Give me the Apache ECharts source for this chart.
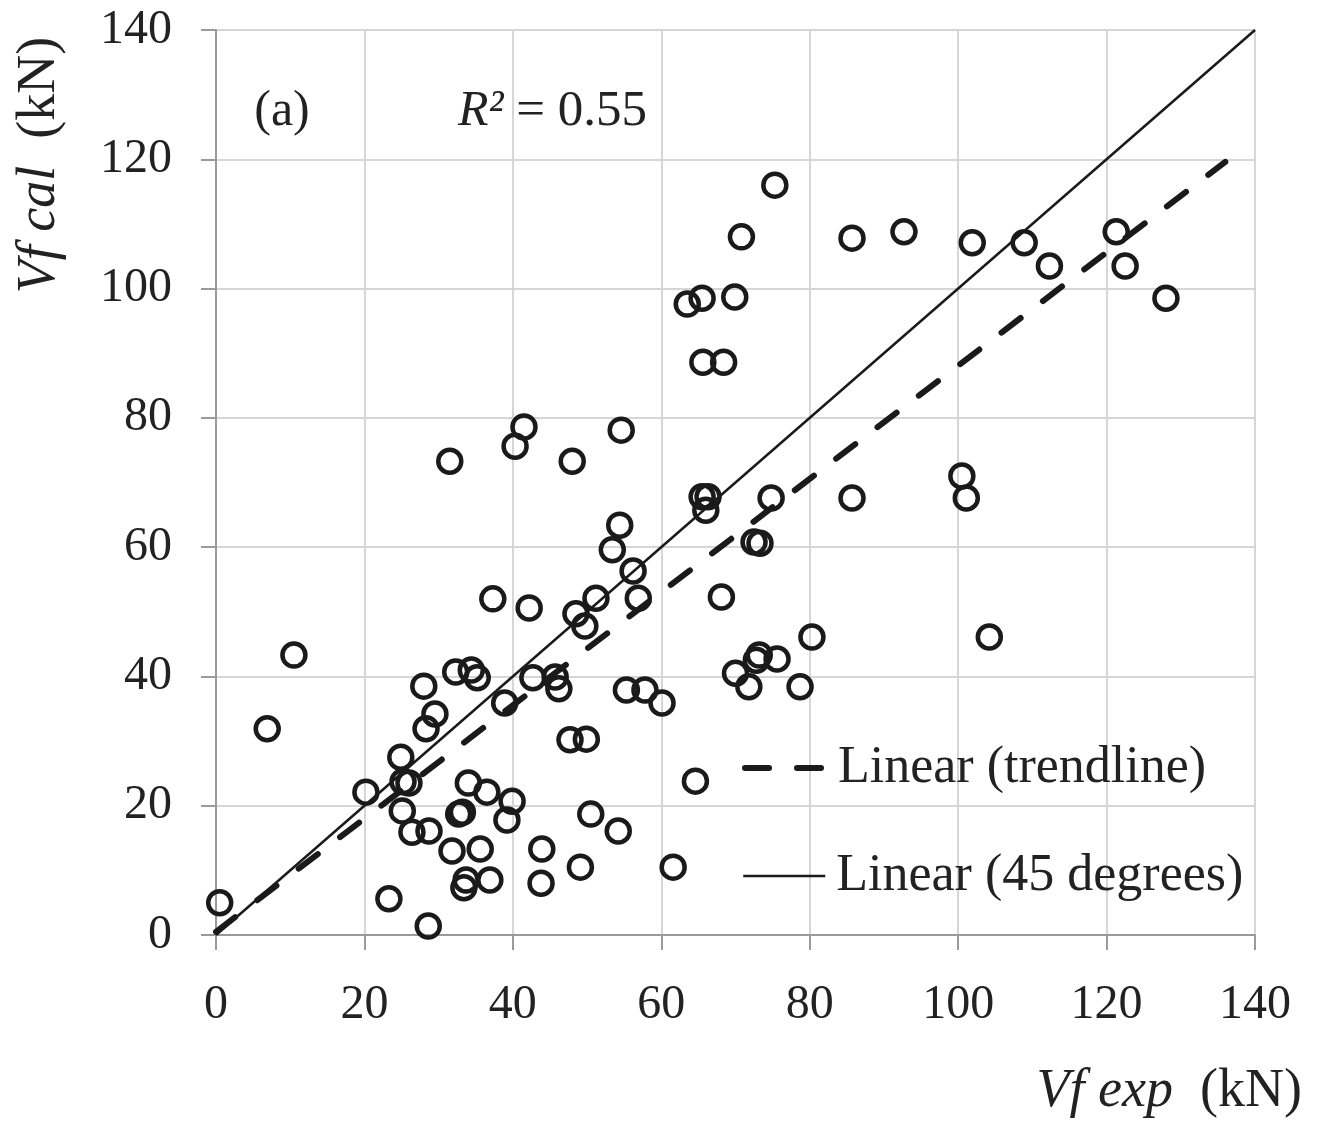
<!DOCTYPE html>
<html>
<head>
<meta charset="utf-8">
<script src="https://cdn.jsdelivr.net/npm/echarts@6/dist/echarts.min.js"></script>
<style>
  html, body { margin: 0; background: #fff; }
  #chart { width: 1320px; height: 1128px; }
</style>
</head>
<body>
<div id="chart"></div>
<script>
	'use strict';

	// measured shear (Vf exp) vs calculated (Vf cal), kN
	var vfExp = [0.5, 6.9, 10.5, 20.2, 23.3, 24.9, 25.2, 26.0, 25.1, 26.4,
		28.0, 28.3, 28.7, 28.6, 29.5, 31.8, 31.5, 32.3, 32.7, 33.2,
		33.4, 33.7, 34.0, 34.4, 35.2, 35.6, 36.5, 36.9, 37.3, 38.9,
		39.2, 39.9, 40.3, 41.5, 42.2, 42.7, 43.9, 43.8, 45.7, 46.2,
		47.7, 48.0, 48.5, 49.7, 49.9, 49.1, 50.5, 51.2, 53.4, 54.4,
		54.6, 54.2, 55.3, 56.2, 56.9, 57.8, 60.1, 61.6, 63.5, 64.6,
		65.5, 65.5, 66.3, 66.0, 65.6, 68.4, 68.1, 70.0, 69.9, 70.8,
		71.8, 72.5, 73.3, 72.8, 73.2, 75.3, 74.8, 75.6, 78.7, 80.3,
		85.7, 85.7, 92.7, 100.5, 101.1, 101.9, 104.2, 108.9, 112.3, 121.3,
		122.5, 128.0];
	var vfCal = [5.0, 31.9, 43.3, 22.1, 5.6, 27.5, 23.7, 23.5, 19.2, 15.9,
		38.5, 31.9, 16.1, 1.4, 34.2, 13.0, 73.3, 40.7, 18.7, 19.0,
		7.3, 8.5, 23.5, 41.0, 39.8, 13.3, 22.1, 8.5, 52.0, 35.9,
		17.8, 20.7, 75.6, 78.6, 50.6, 39.8, 13.3, 8.0, 39.9, 38.1,
		30.2, 73.3, 49.7, 47.8, 30.3, 10.5, 18.7, 52.1, 59.6, 63.4,
		78.1, 16.1, 37.9, 56.3, 52.1, 37.9, 35.9, 10.5, 97.6, 23.8,
		98.5, 67.8, 67.8, 65.7, 88.6, 88.6, 52.3, 40.5, 98.7, 108.0,
		38.4, 60.8, 60.6, 42.5, 43.3, 116.0, 67.6, 42.7, 38.4, 46.1,
		107.8, 67.6, 108.8, 71.0, 67.6, 107.1, 46.1, 107.1, 103.5, 108.8,
		103.5, 98.5];

	var trendX = [0, 136];
	var trendY = [0.5, 119.6];
	var diagX = [0, 140];
	var diagY = [0, 140];

	var axisMin = 0, axisMax = 140, axisStep = 20;
	var r2Label = '0.55';
	var panelLabel = '(a)';

	var serif = '"Liberation Serif", "DejaVu Serif", serif';
	var ink = '#1a1a1a';
	var dashStyle = { color: ink, width: 6, type: [24, 28], cap: 'round' };
	var solidStyle = { color: ink, width: 2.5, type: 'solid' };

	var pairs = function(xs, ys) {
		var out = [];
		for (var i = 0; i < xs.length; i++) {
			out.push([xs[i], ys[i]]);
		}
		return out;
	};

	var valueAxis = function(margin) {
		return {
			type: 'value',
			min: axisMin,
			max: axisMax,
			interval: axisStep,
			axisLine: { show: true, lineStyle: { color: '#9a9a9a', width: 2 } },
			axisTick: { show: true, length: 15, lineStyle: { color: '#9a9a9a', width: 2 } },
			splitLine: { show: true, lineStyle: { color: '#d6d6d6', width: 2 } },
			axisLabel: { fontSize: 48, fontFamily: serif, color: '#222', margin: margin }
		};
	};

	var legendAt = function(name, top, lineStyle) {
		return {
			data: [name],
			left: 742,
			top: top,
			padding: 0,
			itemWidth: 82,
			itemHeight: 14,
			itemGap: 0,
			selectedMode: false,
			itemStyle: { opacity: 0 },
			lineStyle: lineStyle,
			textStyle: { fontSize: 52, fontFamily: serif, color: '#222', padding: [0, 0, 0, 6] }
		};
	};

	var chart = echarts.init(document.getElementById('chart'), null, { renderer: 'canvas' });

	chart.setOption({
		backgroundColor: '#fff',
		animation: false,
		grid: { left: 216, right: 65, top: 30, bottom: 193, containLabel: false, outerBoundsMode: 'none' },
		xAxis: valueAxis(46),
		yAxis: valueAxis(44),
		legend: [
			legendAt('Linear (trendline)', 742, dashStyle),
			legendAt('Linear (45 degrees)', 850, solidStyle)
		],
		series: [
			{
				name: 'data',
				type: 'scatter',
				data: pairs(vfExp, vfCal),
				symbol: 'circle',
				symbolSize: 23,
				itemStyle: { color: 'rgba(0,0,0,0)', borderColor: ink, borderWidth: 4.5, opacity: 1 },
				z: 2
			},
			{
				name: 'Linear (trendline)',
				type: 'line',
				data: pairs(trendX, trendY),
				symbol: 'none',
				lineStyle: dashStyle,
				itemStyle: { color: ink },
				z: 4
			},
			{
				name: 'Linear (45 degrees)',
				type: 'line',
				data: pairs(diagX, diagY),
				symbol: 'none',
				lineStyle: solidStyle,
				itemStyle: { color: ink },
				z: 4
			}
		],
		graphic: [
			{
				type: 'text', x: 282, y: 112,
				style: {
					text: panelLabel, fontSize: 50, fontFamily: serif, fill: '#222',
					align: 'center', verticalAlign: 'middle'
				}
			},
			{
				type: 'text', x: 458, y: 112,
				style: {
					text: '{r|R²}{n| = ' + r2Label + '}',
					align: 'left', verticalAlign: 'middle',
					rich: {
						r: { fontSize: 50, fontFamily: serif, fontStyle: 'italic', fill: '#222' },
						n: { fontSize: 51, fontFamily: serif, fill: '#222' }
					}
				}
			},
			{
				type: 'text', x: 1302, y: 1092,
				style: {
					text: '{i|Vf exp}{n|  (kN)}',
					align: 'right', verticalAlign: 'middle',
					rich: {
						i: { fontSize: 54, fontFamily: serif, fontStyle: 'italic', fill: '#222' },
						n: { fontSize: 54, fontFamily: serif, fill: '#222' }
					}
				}
			},
			{
				type: 'text', x: 40, y: 165, rotation: Math.PI / 2,
				style: {
					text: '{i|Vf cal}{n|  (kN)}',
					align: 'center', verticalAlign: 'middle',
					rich: {
						i: { fontSize: 54, fontFamily: serif, fontStyle: 'italic', fill: '#222' },
						n: { fontSize: 54, fontFamily: serif, fill: '#222' }
					}
				}
			}
		]
	});
</script>
</body>
</html>
